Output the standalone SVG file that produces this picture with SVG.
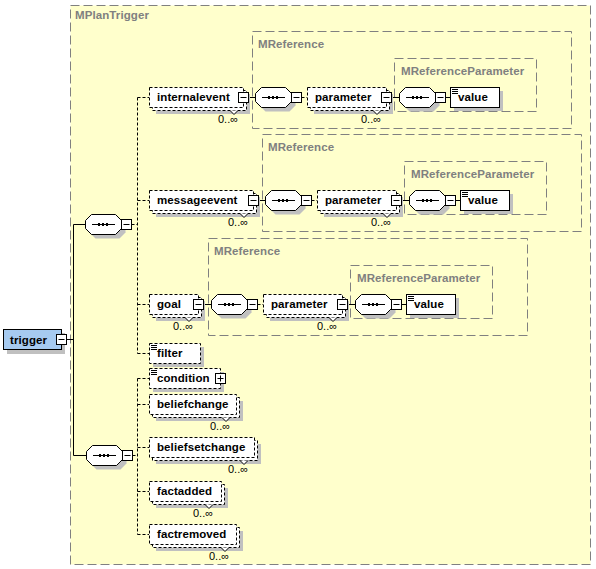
<svg xmlns="http://www.w3.org/2000/svg" xmlns:xlink="http://www.w3.org/1999/xlink" width="596" height="569" viewBox="0 0 596 569">
<style>
.type{fill:none;stroke:#808080;stroke-dasharray:9 4}
.tl{font-family:"Liberation Sans",Arial,sans-serif;font-weight:bold;font-size:11.5px;fill:#808080;letter-spacing:0.1px}
.nm{font-family:"Liberation Sans",Arial,sans-serif;font-weight:bold;font-size:11.5px;fill:#000;letter-spacing:0.1px}
.oc{font-family:"Liberation Sans",Arial,sans-serif;font-size:11px;fill:#000}
.shd{fill:#C0C0C0;stroke:none}
.opt{fill:#fff;stroke:#000;stroke-dasharray:3 2}
.req{fill:#fff;stroke:#000}
.ln{fill:none;stroke:#000}
.dl{fill:none;stroke:#000;stroke-dasharray:3 2}
.nt{fill:#fff;stroke:#000}
</style>
<defs>
<g id="seq">
<polygon class="shd" points="10.5,4.5 34.5,4.5 40.5,10.5 40.5,18.5 34.5,24.5 10.5,24.5 4.5,18.5 4.5,10.5"/>
<polygon class="req" points="6.5,0.5 30.5,0.5 36.5,6.5 36.5,14.5 30.5,20.5 6.5,20.5 0.5,14.5 0.5,6.5"/>
<path class="ln" d="M7 10.5H30"/>
<rect x="13" y="9" width="2" height="3" fill="#000"/>
<rect x="17" y="9" width="2" height="3" fill="#000"/>
<rect x="21" y="9" width="2" height="3" fill="#000"/>
<rect class="req" x="36.5" y="5.5" width="10" height="10"/>
<path class="ln" d="M38.5 10.5h6"/>
</g>
<g id="minus"><rect class="req" x="0.5" y="0.5" width="10" height="10"/><path class="ln" d="M2.5 5.5h6"/></g>
<g id="plus"><rect class="req" x="0.5" y="0.5" width="10" height="10"/><path class="ln" d="M2.5 5.5h6M5.5 2.5v6"/></g>
<path id="doc" class="ln" d="M2 2.5h6M2 4.5h6M2 6.5h6"/>
</defs>

<rect id="MPlanTrigger" x="70.5" y="5.5" width="520" height="559" fill="#FFFFCC" stroke="#808080" stroke-dasharray="9 4"/>
<text class="tl" x="75" y="19">MPlanTrigger</text>

<g id="types">
<rect class="type" x="252.5" y="31.5" width="319" height="97"/>
<text class="tl" x="258" y="48">MReference</text>
<rect class="type" x="394.5" y="58.5" width="142" height="53"/>
<text class="tl" x="401" y="75">MReferenceParameter</text>
<rect class="type" x="262.5" y="134.5" width="319" height="97"/>
<text class="tl" x="268" y="151">MReference</text>
<rect class="type" x="404.5" y="161.5" width="142" height="53"/>
<text class="tl" x="411" y="178">MReferenceParameter</text>
<rect class="type" x="208.5" y="238.5" width="319" height="97"/>
<text class="tl" x="214" y="255">MReference</text>
<rect class="type" x="350.5" y="265.5" width="142" height="53"/>
<text class="tl" x="357" y="282">MReferenceParameter</text>
</g>

<g id="connectors">
<path class="ln" d="M66.5 339.5H73.5M73.5 224.5V455.5M73.5 224.5H85.5M73.5 455.5H86.5"/>
<path class="dl" d="M131.5 224.5H137.5M137.5 97.5V353.5M137.5 97.5H149M137.5 200.5H149M137.5 304.5H149M137.5 353.5H149"/>
<path class="dl" d="M132.5 455.5H137.5M137.5 378.5V534.5M137.5 378.5H149M137.5 404.5H149M137.5 447.5H149M137.5 491.5H149M137.5 534.5H149"/>
<path class="ln" d="M248.5 97.5H255M391.5 97.5H399M445.5 97.5H450"/>
<path class="dl" d="M301.5 97.5H307"/>
<path class="ln" d="M258.5 200.5H265M401.5 200.5H409M455.5 200.5H460"/>
<path class="dl" d="M311.5 200.5H317"/>
<path class="ln" d="M203.5 304.5H211M347.5 304.5H355M401.5 304.5H406"/>
<path class="dl" d="M257.5 304.5H263"/>
</g>

<g id="trigger" transform="translate(3,329)">
<rect class="shd" x="4" y="4" width="58" height="21"/>
<rect x="0.5" y="0.5" width="58" height="20" fill="#A6CAF0" stroke="#000"/>
<text class="nm" x="7" y="15">trigger</text>
<use xlink:href="#minus" x="53" y="5"/>
</g>

<use id="seqA" xlink:href="#seq" x="85" y="214"/>
<use id="seqB" xlink:href="#seq" x="86" y="445"/>

<g id="internalevent" transform="translate(149,87)">
<rect class="shd" x="7" y="7" width="94" height="20"/>
<rect class="opt" x="3.5" y="3.5" width="94" height="20"/>
<path class="nt" d="M81 23.5L85 27.5L89 23.5"/>
<rect class="opt" x="0.5" y="0.5" width="94" height="20"/>
<text class="nm" x="8" y="14">internalevent</text>
<use xlink:href="#minus" x="89" y="5"/>
<text class="oc" x="69" y="36">0..∞</text>
</g>
<use id="seq1" xlink:href="#seq" x="255" y="87"/>
<g id="parameter1" transform="translate(307,87)">
<rect class="shd" x="7" y="7" width="79" height="20"/>
<rect class="opt" x="3.5" y="3.5" width="79" height="20"/>
<path class="nt" d="M66 23.5L70 27.5L74 23.5"/>
<rect class="opt" x="0.5" y="0.5" width="79" height="20"/>
<text class="nm" x="8" y="14">parameter</text>
<use xlink:href="#minus" x="74" y="5"/>
<text class="oc" x="54" y="36">0..∞</text>
</g>
<use id="seq1b" xlink:href="#seq" x="399" y="87"/>
<g id="value1" transform="translate(450,87)">
<rect class="shd" x="4" y="4" width="49" height="20"/>
<rect class="req" x="0.5" y="0.5" width="49" height="20"/>
<use xlink:href="#doc"/>
<text class="nm" x="8" y="14">value</text>
</g>

<g id="messageevent" transform="translate(149,190)">
<rect class="shd" x="7" y="7" width="104" height="20"/>
<rect class="opt" x="3.5" y="3.5" width="104" height="20"/>
<path class="nt" d="M91 23.5L95 27.5L99 23.5"/>
<rect class="opt" x="0.5" y="0.5" width="104" height="20"/>
<text class="nm" x="8" y="14">messageevent</text>
<use xlink:href="#minus" x="99" y="5"/>
<text class="oc" x="79" y="36">0..∞</text>
</g>
<use id="seq2" xlink:href="#seq" x="265" y="190"/>
<g id="parameter2" transform="translate(317,190)">
<rect class="shd" x="7" y="7" width="79" height="20"/>
<rect class="opt" x="3.5" y="3.5" width="79" height="20"/>
<path class="nt" d="M66 23.5L70 27.5L74 23.5"/>
<rect class="opt" x="0.5" y="0.5" width="79" height="20"/>
<text class="nm" x="8" y="14">parameter</text>
<use xlink:href="#minus" x="74" y="5"/>
<text class="oc" x="54" y="36">0..∞</text>
</g>
<use id="seq2b" xlink:href="#seq" x="409" y="190"/>
<g id="value2" transform="translate(460,190)">
<rect class="shd" x="4" y="4" width="49" height="20"/>
<rect class="req" x="0.5" y="0.5" width="49" height="20"/>
<use xlink:href="#doc"/>
<text class="nm" x="8" y="14">value</text>
</g>

<g id="goal" transform="translate(149,294)">
<rect class="shd" x="7" y="7" width="49" height="20"/>
<rect class="opt" x="3.5" y="3.5" width="49" height="20"/>
<path class="nt" d="M36 23.5L40 27.5L44 23.5"/>
<rect class="opt" x="0.5" y="0.5" width="49" height="20"/>
<text class="nm" x="8" y="14">goal</text>
<use xlink:href="#minus" x="44" y="5"/>
<text class="oc" x="24" y="36">0..∞</text>
</g>
<use id="seq3" xlink:href="#seq" x="211" y="294"/>
<g id="parameter3" transform="translate(263,294)">
<rect class="shd" x="7" y="7" width="79" height="20"/>
<rect class="opt" x="3.5" y="3.5" width="79" height="20"/>
<path class="nt" d="M66 23.5L70 27.5L74 23.5"/>
<rect class="opt" x="0.5" y="0.5" width="79" height="20"/>
<text class="nm" x="8" y="14">parameter</text>
<use xlink:href="#minus" x="74" y="5"/>
<text class="oc" x="54" y="36">0..∞</text>
</g>
<use id="seq3b" xlink:href="#seq" x="355" y="294"/>
<g id="value3" transform="translate(406,294)">
<rect class="shd" x="4" y="4" width="49" height="20"/>
<rect class="req" x="0.5" y="0.5" width="49" height="20"/>
<use xlink:href="#doc"/>
<text class="nm" x="8" y="14">value</text>
</g>

<g id="filter" transform="translate(149,343)">
<rect class="shd" x="4" y="4" width="51" height="20"/>
<rect class="opt" x="0.5" y="0.5" width="51" height="20"/>
<use xlink:href="#doc"/>
<text class="nm" x="8" y="14">filter</text>
</g>

<g id="condition" transform="translate(149,368)">
<rect class="shd" x="4" y="4" width="71" height="20"/>
<rect class="opt" x="0.5" y="0.5" width="71" height="20"/>
<use xlink:href="#doc"/>
<text class="nm" x="8" y="14">condition</text>
<use xlink:href="#plus" x="66" y="5"/>
</g>

<g id="beliefchange" transform="translate(149,394)">
<rect class="shd" x="7" y="7" width="87" height="20"/>
<rect class="opt" x="3.5" y="3.5" width="87" height="20"/>
<path class="nt" d="M73 23.5L77 27.5L81 23.5"/>
<rect class="opt" x="0.5" y="0.5" width="87" height="20"/>
<text class="nm" x="8" y="14">beliefchange</text>
<text class="oc" x="61" y="36">0..∞</text>
</g>

<g id="beliefsetchange" transform="translate(149,437)">
<rect class="shd" x="7" y="7" width="105" height="20"/>
<rect class="opt" x="3.5" y="3.5" width="105" height="20"/>
<path class="nt" d="M91 23.5L95 27.5L99 23.5"/>
<rect class="opt" x="0.5" y="0.5" width="105" height="20"/>
<text class="nm" x="8" y="14">beliefsetchange</text>
<text class="oc" x="79" y="36">0..∞</text>
</g>

<g id="factadded" transform="translate(149,481)">
<rect class="shd" x="7" y="7" width="72" height="20"/>
<rect class="opt" x="3.5" y="3.5" width="72" height="20"/>
<path class="nt" d="M56 23.5L60 27.5L64 23.5"/>
<rect class="opt" x="0.5" y="0.5" width="72" height="20"/>
<text class="nm" x="8" y="14">factadded</text>
<text class="oc" x="44" y="36">0..∞</text>
</g>

<g id="factremoved" transform="translate(149,524)">
<rect class="shd" x="7" y="7" width="87" height="20"/>
<rect class="opt" x="3.5" y="3.5" width="87" height="20"/>
<path class="nt" d="M72 23.5L76 27.5L80 23.5"/>
<rect class="opt" x="0.5" y="0.5" width="87" height="20"/>
<text class="nm" x="8" y="14">factremoved</text>
<text class="oc" x="60" y="36">0..∞</text>
</g>
</svg>
